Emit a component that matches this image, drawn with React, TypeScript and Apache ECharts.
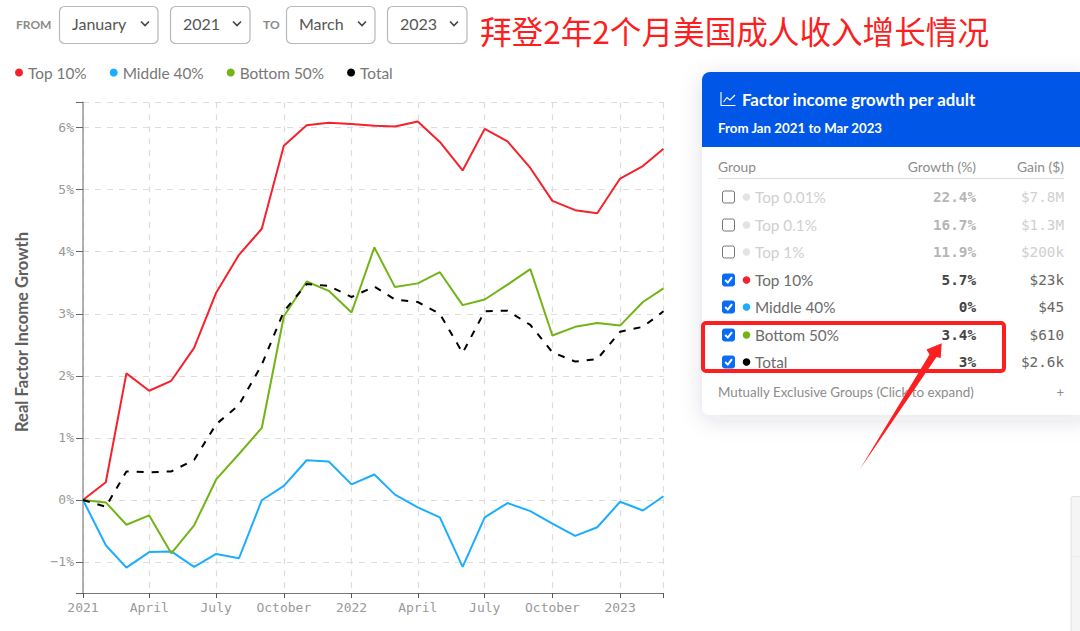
import React, { useEffect, useRef } from "react";
import * as echarts from "echarts";

const months: string[] = [
  "2021-01","2021-02","2021-03","2021-04","2021-05","2021-06","2021-07","2021-08","2021-09","2021-10","2021-11","2021-12",
  "2022-01","2022-02","2022-03","2022-04","2022-05","2022-06","2022-07","2022-08","2022-09","2022-10","2022-11","2022-12",
  "2023-01","2023-02","2023-03",
];
const top10 = [0,0.285,2.04,1.76,1.92,2.45,3.34,3.95,4.37,5.71,6.04,6.08,6.06,6.03,6.02,6.10,5.77,5.31,5.98,5.78,5.35,4.82,4.67,4.62,5.18,5.38,5.66];
const middle40 = [0,-0.73,-1.09,-0.84,-0.83,-1.08,-0.87,-0.94,-0.005,0.226,0.64,0.62,0.25,0.41,0.085,-0.12,-0.28,-1.08,-0.28,-0.05,-0.18,-0.38,-0.58,-0.44,-0.03,-0.17,0.06];
const bottom50 = [0,-0.04,-0.40,-0.25,-0.86,-0.41,0.33,0.74,1.16,2.96,3.52,3.37,3.02,4.07,3.43,3.49,3.67,3.14,3.23,3.47,3.72,2.65,2.79,2.85,2.81,3.19,3.41];
const total = [0,-0.11,0.46,0.445,0.46,0.645,1.22,1.53,2.18,3.04,3.48,3.45,3.27,3.44,3.23,3.19,3.0,2.37,3.04,3.05,2.82,2.38,2.23,2.27,2.71,2.79,3.04];

const xTickMonths = ["2021-01","2021-04","2021-07","2021-10","2022-01","2022-04","2022-07","2022-10","2023-01"];
const xTickLabels = ["2021","April","July","October","2022","April","July","October","2023"];
const yTicks = [-1,0,1,2,3,4,5,6];
const yMin = -1.5;
const yMax = 6.41;

const seriesNames = ["Top 10%","Middle 40%","Bottom 50%","Total"];
const seriesColors = ["#f5222d","#1cadff","#72b416","#000000"];

const tableGroups = ["Top 0.01%","Top 0.1%","Top 1%","Top 10%","Middle 40%","Bottom 50%","Total"];
const tableGrowth = ["22.4%","16.7%","11.9%","5.7%","0%","3.4%","3%"];
const tableGain = ["$7.8M","$1.3M","$200k","$23k","$45","$610","$2.6k"];
const tableChecked = [false,false,false,true,true,true,true];
const tableDots = ["#e3e3e3","#e3e3e3","#e3e3e3","#f5222d","#1cadff","#72b416","#000000"];

const SANS = "Lato, 'Noto Sans', sans-serif";
const MONO = "'DejaVu Sans Mono', monospace";

const ts = (m: string) => {
  const [y, mo] = m.split("-").map(Number);
  return Date.UTC(y, mo - 1, 1);
};

const txt = (text: string, x: number, y: number, fontSize: number, fill: string, extra: any = {}) => ({
  type: "text",
  x,
  y,
  style: { text, fontSize, fill, fontFamily: SANS, verticalAlign: "middle", align: "left", ...extra },
});

function selectBox(x: number, w: number, label: string) {
  const right = x + w;
  return [
    { type: "rect", shape: { x: x + 0.5, y: 6.5, width: w - 0.5, height: 37, r: 5 }, style: { fill: "#fff", stroke: "#b8b8b8", lineWidth: 1.2 } },
    txt(label, x + 13, 23.5, 16, "#555"),
    { type: "polyline", shape: { points: [[right - 17, 21.5], [right - 13, 25.5], [right - 9, 21.5]] }, style: { fill: "none", stroke: "#444", lineWidth: 1.6 } },
  ];
}

function tableRows() {
  const out: any[] = [];
  const rowY = [197, 225, 252, 280, 307, 335, 362];
  tableGroups.forEach((g, i) => {
    const y = rowY[i];
    const on = tableChecked[i];
    out.push({
      type: "rect",
      shape: { x: 722.5, y: y - 6, width: 12, height: 12, r: 2 },
      style: on ? { fill: "#0a6cf5", stroke: "#0a6cf5", lineWidth: 1 } : { fill: "#fff", stroke: "#767676", lineWidth: 1 },
    });
    if (on) {
      out.push({
        type: "polyline",
        shape: { points: [[725.2, y], [727.8, y + 2.6], [732, y - 2.8]] },
        style: { fill: "none", stroke: "#fff", lineWidth: 2 },
      });
    }
    out.push({ type: "circle", shape: { cx: 746.5, cy: y, r: 3.8 }, style: { fill: tableDots[i] } });
    out.push(txt(g, 755, y - 0.5, 15.3, on ? "#6b6b6b" : "#cfcfcf"));
    out.push(txt(tableGrowth[i], 976, y - 0.5, 14.3, on ? "#444" : "#b5b5b5", { align: "right", fontFamily: MONO, fontWeight: "bold" }));
    out.push(txt(tableGain[i], 1064, y - 0.5, 14.3, on ? "#666" : "#cfcfcf", { align: "right", fontFamily: MONO }));
  });
  return out;
}

function graphics() {
  return [
    // top controls
    txt("FROM", 16, 24, 12, "#8a8a8a", { fontWeight: "bold" }),
    ...selectBox(59, 99, "January"),
    ...selectBox(170, 80, "2021"),
    txt("TO", 263, 24, 12, "#8a8a8a", { fontWeight: "bold" }),
    ...selectBox(286, 89, "March"),
    ...selectBox(387, 80, "2023"),
    txt("拜登2年2个月美国成人收入增长情况", 480, 30, 31.6, "#fb1f1f", { fontFamily: "'Noto Sans CJK SC', sans-serif" }),

    // y axis title
    {
      type: "text",
      x: 22,
      y: 332,
      rotation: Math.PI / 2,
      style: { text: "Real Factor Income Growth", fontSize: 16.6, fontWeight: "bold", fill: "#5f5f5f", fontFamily: SANS, align: "center", verticalAlign: "middle" },
    },

    // faint box at right edge
    { type: "rect", shape: { x: 1071, y: 496.5, width: 14, height: 140, r: 2 }, style: { fill: "#f5f5f5", stroke: "#e2e2e2", lineWidth: 1 } },
    { type: "line", shape: { x1: 1071, y1: 556.5, x2: 1080, y2: 556.5 }, style: { stroke: "#ececec", lineWidth: 1 } },

    // panel
    { type: "rect", shape: { x: 702, y: 72, width: 390, height: 343, r: 8 }, style: { fill: "#fff", shadowBlur: 22, shadowColor: "rgba(40,50,90,0.13)", shadowOffsetY: 5 } },
    { type: "rect", shape: { x: 702, y: 72, width: 390, height: 75, r: [8, 8, 0, 0] }, style: { fill: "#0057e7" } },
    { type: "polyline", shape: { points: [[721, 92], [721, 105.5], [735.5, 105.5]] }, style: { fill: "none", stroke: "#fff", lineWidth: 1.1 } },
    { type: "polyline", shape: { points: [[723.5, 102], [727, 97.5], [730, 100], [735, 95]] }, style: { fill: "none", stroke: "#fff", lineWidth: 1.1 } },
    txt("Factor income growth per adult", 742, 99.5, 16.8, "#fff", { fontWeight: "bold" }),
    txt("From Jan 2021 to Mar 2023", 718, 127.5, 13.3, "#fff", { fontWeight: "bold" }),
    txt("Group", 718, 166.5, 13.8, "#8c8c8c"),
    txt("Growth (%)", 976, 166.5, 13.9, "#8c8c8c", { align: "right" }),
    txt("Gain ($)", 1064, 166.5, 13.9, "#8c8c8c", { align: "right" }),
    { type: "line", shape: { x1: 718, y1: 178.5, x2: 1064, y2: 178.5 }, style: { stroke: "#dcdcdc", lineWidth: 1 } },
    ...tableRows(),
    txt("Mutually Exclusive Groups (Click to expand)", 718, 392, 13.4, "#8c8c8c"),
    txt("+", 1064, 392, 13, "#8c8c8c", { align: "right" }),

    // annotations
    { type: "rect", shape: { x: 703, y: 323, width: 301, height: 48, r: 3 }, style: { fill: "none", stroke: "#fb1f1f", lineWidth: 4 } },
    {
      type: "polygon",
      shape: { points: [[860, 469], [929.5, 354.5], [926.5, 349.5], [941.7, 343.3], [940.7, 358], [936.5, 357]] },
      style: { fill: "#fb1f1f" },
    },
  ];
}

const xMin = ts(months[0]);
const xMax = ts(months[months.length - 1]);

export default function App() {
  const ref = useRef<HTMLDivElement>(null);
  useEffect(() => {
    document.body.style.margin = "0";
    const chart = echarts.init(ref.current!, undefined, { renderer: "svg" });
    const labelOf = new Map(xTickMonths.map((m, i) => [ts(m), xTickLabels[i]]));
    const lineStyles: any[] = [
      { width: 2, color: seriesColors[0] },
      { width: 2, color: seriesColors[1] },
      { width: 2, color: seriesColors[2] },
      { width: 2, color: seriesColors[3], type: [7, 8] },
    ];
    const values = [top10, middle40, bottom50, total];
    chart.setOption({
      animation: false,
      backgroundColor: "#fff",
      grid: { left: 83, right: 416.5, top: 102.2, bottom: 38, containLabel: false },
      legend: {
        left: 15,
        top: 65,
        padding: 0,
        icon: "circle",
        itemWidth: 8,
        itemHeight: 8,
        itemGap: 23,
        data: seriesNames,
        textStyle: { color: "#777", fontFamily: SANS, fontSize: 15.4 },
      },
      xAxis: {
        type: "value",
        min: xMin,
        max: xMax,
        axisLine: { show: true, onZero: false, lineStyle: { color: "#777", width: 1 } },
        axisTick: { show: true, length: 5, lineStyle: { color: "#555" }, customValues: [...xTickMonths.map(ts), xMax] },
        axisLabel: {
          customValues: xTickMonths.map(ts),
          formatter: (v: number) => labelOf.get(v) ?? "",
          color: "#999",
          fontFamily: MONO,
          fontSize: 13,
          margin: 8,
          hideOverlap: false,
        },
        splitLine: { show: true, lineStyle: { color: "#ddd", type: [6, 6], width: 1.2 } },
      },
      yAxis: {
        type: "value",
        min: yMin,
        max: yMax,
        axisLine: { show: true, lineStyle: { color: "#999", width: 1.5 } },
        axisTick: { show: true, length: 7, lineStyle: { color: "#666" }, customValues: [yMin, ...yTicks, yMax] },
        axisLabel: {
          customValues: yTicks,
          formatter: (v: number) => `${v === -1 ? "\u2212" : ""}${Math.abs(v)}%`,
          color: "#999",
          fontFamily: MONO,
          fontSize: 13,
          margin: 9,
        },
        splitLine: { show: true, lineStyle: { color: "#ddd", type: [6, 6], width: 1.2 } },
      },
      series: seriesNames.map((name, i) => ({
        name,
        type: "line",
        showSymbol: false,
        symbol: "none",
        itemStyle: { color: seriesColors[i] },
        lineStyle: lineStyles[i],
        data: months.map((m, k) => [ts(m), values[i][k]]),
        clip: false,
      })),
      graphic: { elements: graphics() },
    });
    return () => chart.dispose();
  }, []);
  return <div ref={ref} style={{ position: "fixed", left: 0, top: 0, width: 1080, height: 631 }} />;
}
